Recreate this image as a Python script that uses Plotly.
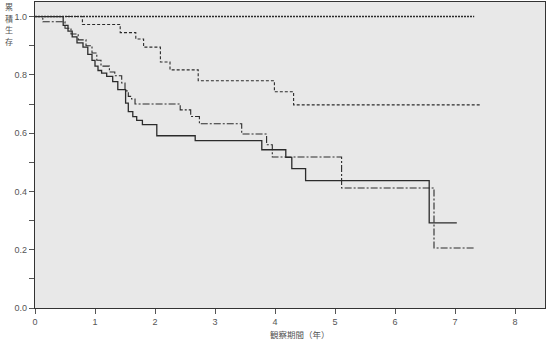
import plotly.graph_objects as go

# Kaplan-Meier step curves: event times (years) and cumulative survival
dotted_t = [0.0, 7.32]
dotted_s = [1.0, 1.0]

dashed_t = [0.0, 0.79, 1.42, 1.68, 1.81, 2.09, 2.25, 2.72, 3.99, 4.31, 7.43]
dashed_s = [1.0, 0.973, 0.945, 0.923, 0.895, 0.844, 0.817, 0.780, 0.742, 0.697, 0.697]

solid_t = [0.0, 0.47, 0.55, 0.62, 0.70, 0.80, 0.88, 0.95, 1.00, 1.05, 1.11, 1.195,
           1.295, 1.38, 1.51, 1.555, 1.63, 1.695, 1.79, 2.03, 2.67, 3.78, 4.18,
           4.28, 4.51, 6.57, 7.03]
solid_s = [1.0, 0.97, 0.95, 0.93, 0.91, 0.895, 0.87, 0.85, 0.83, 0.815, 0.806, 0.795,
           0.777, 0.749, 0.703, 0.674, 0.657, 0.644, 0.629, 0.591, 0.574, 0.543, 0.517,
           0.478, 0.437, 0.292, 0.292]

dashdot_t = [0.0, 0.13, 0.50, 0.60, 0.72, 0.85, 0.95, 1.03, 1.10, 1.24, 1.33, 1.445,
             1.50, 1.555, 1.61, 1.667, 2.42, 2.595, 2.74, 3.445, 3.86, 3.955, 5.11,
             6.65, 7.32]
dashdot_s = [1.0, 0.982, 0.96, 0.94, 0.92, 0.90, 0.875, 0.85, 0.83, 0.81, 0.797, 0.772,
             0.745, 0.726, 0.717, 0.700, 0.680, 0.657, 0.632, 0.597, 0.560, 0.518, 0.412,
             0.206, 0.206]

x_ticks = [0, 1, 2, 3, 4, 5, 6, 7, 8]
y_ticks = [0.0, 0.1, 0.2, 0.3, 0.4, 0.5, 0.6, 0.7, 0.8, 0.9, 1.0]
y_labels = ["0.0", "", "0.2", "", "0.4", "", "0.6", "", "0.8", "", "1.0"]

y_title = "累積生存"
x_title = "観察期間（年）"

line_color = "#2b2b2b"
text_color = "#555"
num_font = "Liberation Sans, Arial, sans-serif"
cjk_font = "Noto Sans CJK JP, sans-serif"

fig = go.Figure()
series = [
    (solid_t, solid_s, "solid", 1.3),
    (dashdot_t, dashdot_s, "7px,2px,2px,2px", 1.1),
    (dashed_t, dashed_s, "3px,2px", 1.1),
    (dotted_t, dotted_s, "2px,1px", 1.6),
]
for t, s, dash, w in series:
    fig.add_trace(go.Scatter(
        x=t, y=s, mode="lines", line=dict(shape="hv", color=line_color, width=w, dash=dash),
        showlegend=False, hoverinfo="skip"))

# vertical title: one character per line, stacked at the top-left
annotations = []
for i, ch in enumerate(y_title):
    annotations.append(dict(
        text=ch, xref="paper", yref="paper", x=-0.051, y=0.9853 - i * 0.0382,
        xanchor="center", yanchor="middle", showarrow=False, borderpad=0,
        font=dict(family=cjk_font, size=8, color=text_color)))
annotations.append(dict(
    text=x_title, xref="paper", yref="paper", x=0.52, y=0,
    xanchor="center", yanchor="bottom", showarrow=False, borderpad=0, yshift=-32.6,
    font=dict(family=cjk_font, size=8.5, color=text_color)))

fig.update_layout(
    width=550, height=341,
    margin=dict(l=35, r=5, t=2, b=33),
    paper_bgcolor="white",
    plot_bgcolor="#e8e8e8",
    xaxis=dict(
        range=[0, 8.5], tickvals=x_ticks, ticktext=[str(v) for v in x_ticks],
        showgrid=False, zeroline=False, showline=True, linecolor="#333", linewidth=1.2,
        mirror=True, ticks="outside", ticklen=5, tickcolor="#555", tickwidth=1.2,
        tickfont=dict(family=num_font, size=9, color=text_color),
    ),
    yaxis=dict(
        range=[0, 1.05], tickvals=y_ticks, ticktext=y_labels,
        showgrid=False, zeroline=False, showline=True, linecolor="#333", linewidth=1.2,
        mirror=True, ticks="outside", ticklen=5, tickcolor="#555", tickwidth=1.2,
        tickfont=dict(family=num_font, size=9, color=text_color),
    ),
    annotations=annotations,
)

fig.write_html("out.html")
